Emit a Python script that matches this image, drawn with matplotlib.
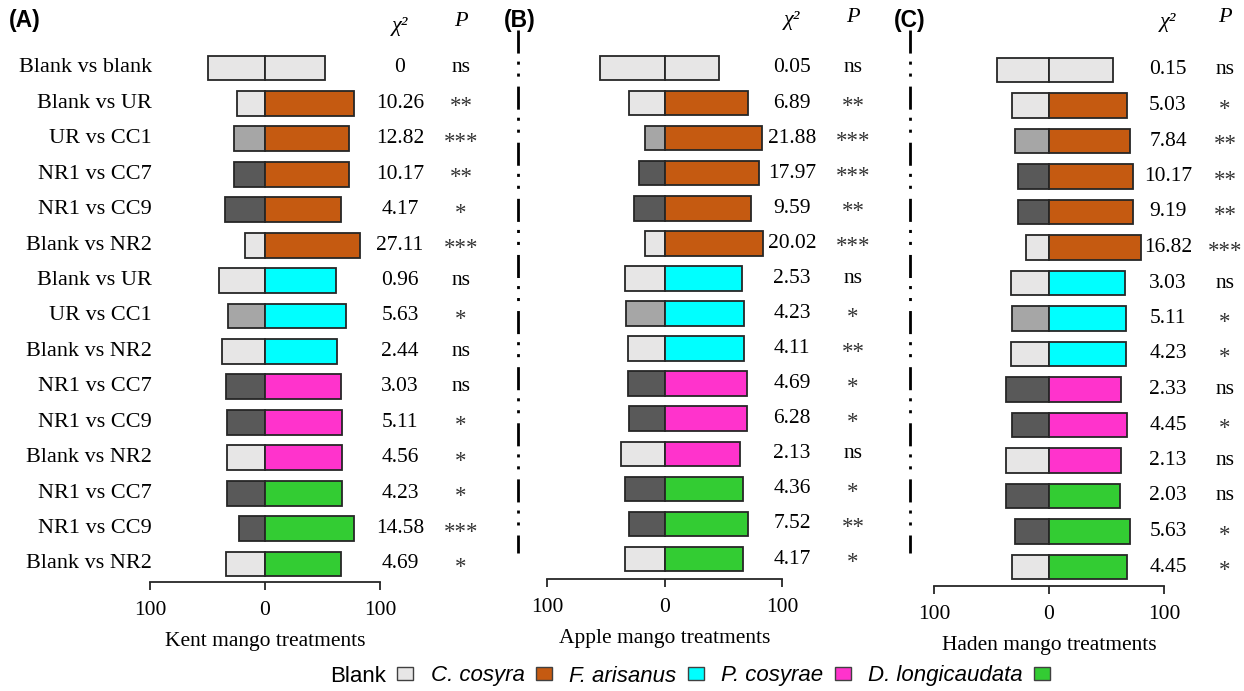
import numpy as np
import matplotlib
matplotlib.use('Agg')
import matplotlib.pyplot as plt
from matplotlib.lines import Line2D
from matplotlib.patches import Patch

# rows (same for the three mango varieties)
comparisons = ['Blank vs blank', 'Blank vs UR', 'UR vs CC1', 'NR1 vs CC7', 'NR1 vs CC9',
               'Blank vs NR2', 'Blank vs UR', 'UR vs CC1', 'Blank vs NR2', 'NR1 vs CC7',
               'NR1 vs CC9', 'Blank vs NR2', 'NR1 vs CC7', 'NR1 vs CC9', 'Blank vs NR2']
row_species = ['Blank'] + ['C. cosyra'] * 5 + ['F. arisanus'] * 3 + ['P. cosyrae'] * 3 + ['D. longicaudata'] * 3

# percentages (left = first treatment, right = second treatment)
kent_left = [50, 24, 27, 27, 35, 17, 40, 32, 37, 34, 33, 33, 33, 23, 34]
kent_right = [52, 77, 73, 73, 66, 83, 62, 70, 63, 66, 67, 67, 67, 77, 66]
kent_chi = ['0', '10.26', '12.82', '10.17', '4.17', '27.11', '0.96', '5.63', '2.44', '3.03',
            '5.11', '4.56', '4.23', '14.58', '4.69']
kent_p = ['ns', '**', '***', '**', '*', '***', 'ns', '*', 'ns', 'ns', '*', '*', '*', '***', '*']

apple_left = [55, 30, 17, 22, 26, 17, 34, 33, 31, 31, 30, 37, 34, 30, 34]
apple_right = [46, 71, 83, 80, 74, 84, 66, 68, 68, 70, 70, 64, 67, 71, 67]
apple_chi = ['0.05', '6.89', '21.88', '17.97', '9.59', '20.02', '2.53', '4.23', '4.11', '4.69',
             '6.28', '2.13', '4.36', '7.52', '4.17']
apple_p = ['ns', '**', '***', '***', '**', '***', 'ns', '*', '**', '*', '*', 'ns', '*', '**', '*']

haden_left = [45, 32, 30, 27, 27, 20, 33, 32, 33, 37, 32, 37, 37, 30, 32]
haden_right = [56, 68, 70, 73, 73, 80, 66, 67, 67, 63, 68, 63, 62, 70, 68]
haden_chi = ['0.15', '5.03', '7.84', '10.17', '9.19', '16.82', '3.03', '5.11', '4.23', '2.33',
             '4.45', '2.13', '2.03', '5.63', '4.45']
haden_p = ['ns', '*', '**', '**', '**', '***', 'ns', '*', '*', 'ns', '*', 'ns', 'ns', '*', '*']

treat_colors = {'Blank': '#e7e6e6', 'UR': '#a6a6a6', 'NR1': '#595959'}
species_colors = {'Blank': '#e7e6e6', 'C. cosyra': '#c55a11', 'F. arisanus': '#00ffff',
                  'P. cosyrae': '#ff33cc', 'D. longicaudata': '#33cc33'}

SERIF = 'Liberation Serif'
W, H = 1244, 691
fig = plt.figure(figsize=(W / 100, H / 100), dpi=100)


def add_panel(px_left, px_right, py_row0, py_row14, py_spine):
    step = (py_row14 - py_row0) / 14
    top = py_row0 - 0.6 * step
    ax = fig.add_axes([px_left / W, 1 - py_spine / H, (px_right - px_left) / W, (py_spine - top) / H])
    ax.set_xlim(-100, 100)
    ax.set_ylim(14 + (py_spine - py_row14) / step, -0.6)
    ax.px = (px_left, px_right, py_row0, step)
    return ax


def px_to_data(ax, px, py):
    px_left, px_right, py_row0, step = ax.px
    zero = (px_left + px_right) / 2
    scale = (px_right - px_left) / 200
    return (px - zero) / scale, (py - py_row0) / step


def draw_panel(ax, left, right, chi, pvals, xlabel, chi_px, p_px, head_py):
    y = np.arange(len(left))
    lcol = [treat_colors[c.split(' vs ')[0]] for c in comparisons]
    rcol = [species_colors[s] for s in row_species]
    ax.barh(y, -np.array(left), height=0.7, color=lcol, edgecolor='#262626', linewidth=1.3)
    ax.barh(y, right, height=0.7, color=rcol, edgecolor='#262626', linewidth=1.3)

    cx, _ = px_to_data(ax, chi_px, 0)
    pxx, _ = px_to_data(ax, p_px, 0)
    for i in y:
        ax.text(cx, i, chi[i], ha='center', va='center', fontsize=15.5, family=SERIF, clip_on=False)
        if pvals[i] == 'ns':
            ax.text(pxx, i, 'ns', ha='center', va='center', fontsize=15.5, family=SERIF, clip_on=False)
        else:
            ax.text(pxx, i + 0.1, pvals[i], ha='center', va='center', fontsize=16.5, family=SERIF,
                    color='#333333', clip_on=False)
    _, hy = px_to_data(ax, 0, head_py[0])
    ax.text(cx, hy, '\u03c7\u00b2', ha='center', va='center', fontsize=16, family=SERIF,
            style='italic', clip_on=False)
    _, hy = px_to_data(ax, 0, head_py[1])
    ax.text(pxx, hy, 'P', ha='center', va='center', fontsize=16, family=SERIF,
            style='italic', clip_on=False)

    for s in ['left', 'right', 'top']:
        ax.spines[s].set_visible(False)
    ax.spines['bottom'].set_linewidth(1.3)
    ax.spines['bottom'].set_color('#262626')
    ax.set_yticks([])
    ax.set_xticks([-100, 0, 100])
    ax.set_xticklabels(['100', '0', '100'], family=SERIF, fontsize=15.5)
    ax.tick_params(axis='x', direction='out', length=6, width=1.3, color='#262626', pad=8)
    ax.set_xlabel(xlabel, family=SERIF, fontsize=15.5, labelpad=8)


ax_a = add_panel(150, 380, 68, 564, 582)
draw_panel(ax_a, kent_left, kent_right, kent_chi, kent_p, 'Kent mango treatments', 400, 461, (27, 22))
for i, lab in enumerate(comparisons):
    lx, _ = px_to_data(ax_a, 152, 0)
    ax_a.text(lx, i, lab, ha='right', va='center', fontsize=16, family=SERIF, clip_on=False)

ax_b = add_panel(547, 782, 68, 559, 579)
draw_panel(ax_b, apple_left, apple_right, apple_chi, apple_p, 'Apple mango treatments', 792, 853, (20, 18))

ax_c = add_panel(934, 1164, 70, 567, 586)
draw_panel(ax_c, haden_left, haden_right, haden_chi, haden_p, 'Haden mango treatments', 1168, 1225, (22, 18))

# panel letters
for lab, px in [('(A)', 9), ('(B)', 504), ('(C)', 894)]:
    fig.text(px / W, 1 - 21 / H, lab, ha='left', va='center', fontsize=16.5, weight='bold',
             family='Liberation Sans')

# dash-dot separators
for px in [518, 910]:
    fig.add_artist(Line2D([px / W, px / W], [1 - 30 / H, 1 - 553 / H], color='black', lw=2,
                          linestyle=(0, (8.3, 2.9, 1.1, 3.2, 1.1, 3.6))))

# legend
names = ['Blank', 'C. cosyra', 'F. arisanus', 'P. cosyrae', 'D. longicaudata']
handles = [Patch(facecolor=species_colors[n], edgecolor='#404040', linewidth=1) for n in names]
leg = fig.legend(handles, names, loc='center', bbox_to_anchor=(690 / W, 1 - 676 / H), ncol=5,
                 frameon=False, markerfirst=False, prop={'family': 'Liberation Sans', 'size': 16},
                 handlelength=0.72, handleheight=0.55, handletextpad=0.5, columnspacing=0.8)
for t in leg.get_texts()[1:]:
    t.set_fontstyle('italic')

fig.savefig('out.png', dpi=100)
